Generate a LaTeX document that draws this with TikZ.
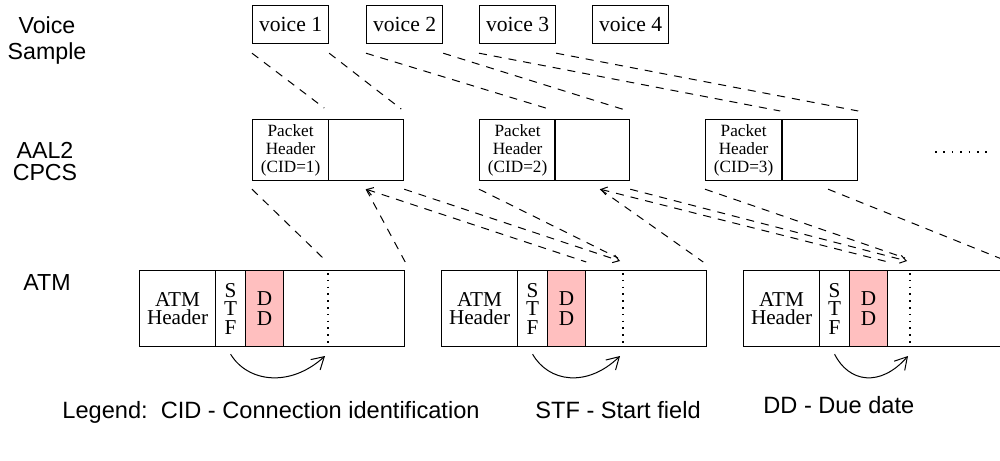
\documentclass[tikz,border=0pt]{standalone}
\usepackage{fontspec}
\setmainfont{Liberation Serif}
\setsansfont{Liberation Sans}
\usetikzlibrary{arrows.meta}
\definecolor{ddpink}{RGB}{255,191,191}
\begin{document}
\begin{tikzpicture}[
  x=0.5pt, y=-0.5pt,
  fieldbox/.style={draw, line width=0.6pt, anchor=north west, inner sep=0pt, align=center},
  voicebox/.style={fieldbox, minimum width=38pt, minimum height=19pt, font=\fontsize{10.8}{12}\selectfont},
  pkthdr/.style={fieldbox, minimum width=38pt, minimum height=30.5pt, font=\fontsize{8.6}{9}\selectfont},
  pktpay/.style={fieldbox, minimum width=37.5pt, minimum height=30.5pt},
  atmhdr/.style={fieldbox, minimum width=38pt, minimum height=38pt, font=\fontsize{10.6}{9.4}\selectfont},
  stfbox/.style={fieldbox, minimum width=15pt, minimum height=38pt, font=\fontsize{10.6}{9.2}\selectfont},
  ddbox/.style={fieldbox, fill=ddpink, minimum width=19pt, minimum height=38pt, font=\fontsize{10.6}{10.4}\selectfont},
  atmpay/.style={fieldbox, minimum width=60.5pt, minimum height=38pt},
  rowlabel/.style={align=center, font=\sffamily\fontsize{11.6}{13}\selectfont},
  legendtext/.style={anchor=base west, inner sep=0pt, font=\sffamily\fontsize{11.8}{14}\selectfont},
  flow/.style={line width=0.5pt, dash pattern=on 4pt off 3.5pt},
  flowtip/.style={-{Straight Barb[length=3pt,width=4pt]}},
  backtip/.style={{Straight Barb[length=3pt,width=4pt]}-},
  nextarc/.style={line width=0.5pt, -{Straight Barb[length=6pt,width=7pt]}},
  fillmark/.style={line width=0.6pt, dash pattern=on 0.8pt off 2.6pt},
  ellip/.style={line width=0.8pt, dash pattern=on 0.8pt off 3.4pt}
]
\useasboundingbox (0,0) rectangle (1000,460);
\clip (0,0) rectangle (1000,460);

\node[rowlabel] (lvoice) at (47,41) {Voice\\Sample};
\node[rowlabel, font=\sffamily\fontsize{11.6}{11}\selectfont] (lcpcs) at (45,162) {AAL2\\CPCS};
\node[rowlabel] (latm) at (47,283) {ATM};

\node[voicebox] (v1) at (252,5) {voice 1};
\node[voicebox] (v2) at (366,5) {voice 2};
\node[voicebox] (v3) at (479,5) {voice 3};
\node[voicebox] (v4) at (592,5) {voice 4};

\node[pkthdr] (c1h) at (252,119) {Packet\\Header\\(CID=1)};
\node[pktpay] (c1p) at (328,119) {};
\node[pkthdr] (c2h) at (479,119) {Packet\\Header\\(CID=2)};
\node[pktpay] (c2p) at (554,119) {};
\node[pkthdr] (c3h) at (705,119) {Packet\\Header\\(CID=3)};
\node[pktpay] (c3p) at (782,119) {};
\draw[ellip] (935,152) -- (987,152);

\node[atmhdr] (a1h) at (139,270) {ATM\\Header};
\node[stfbox] (a1s) at (215,270) {S\\T\\F};
\node[ddbox] (a1d) at (245,270) {D\\D};
\node[atmpay] (a1p) at (283,270) {};
\node[atmhdr] (a2h) at (441,270) {ATM\\Header};
\node[stfbox] (a2s) at (517,270) {S\\T\\F};
\node[ddbox] (a2d) at (547,270) {D\\D};
\node[atmpay] (a2p) at (585,270) {};
\node[atmhdr] (a3h) at (743,270) {ATM\\Header};
\node[stfbox] (a3s) at (819,270) {S\\T\\F};
\node[ddbox] (a3d) at (849,270) {D\\D};
\node[atmpay] (a3p) at (887,270) {};

\coordinate (m1t) at (328,270);
\coordinate (m1b) at (328,346);
\coordinate (m2t) at (623,270);
\coordinate (m2b) at (623,346);
\coordinate (m3t) at (910,270);
\coordinate (m3b) at (910,346);
\draw[fillmark] ([yshift=-1.5pt]m1t) -- ([yshift=1.5pt]m1b);
\draw[fillmark] ([yshift=-1.5pt]m2t) -- ([yshift=1.5pt]m2b);
\draw[fillmark] ([yshift=-1.5pt]m3t) -- ([yshift=1.5pt]m3b);

\draw[flow] ([yshift=-4.5pt]v1.south west) -- ([xshift=-2.5pt,yshift=5.5pt]c1h.north east);
\draw[flow] ([yshift=-4.5pt]v1.south east) -- ([xshift=-1.5pt,yshift=5pt]c1p.north east);
\draw[flow] ([yshift=-4.5pt]v2.south west) -- ([xshift=-2pt,yshift=4.5pt]c2h.north east);
\draw[flow] ([yshift=-4.5pt]v2.south east) -- ([xshift=-2.5pt,yshift=4.5pt]c2p.north east);
\draw[flow] ([yshift=-4.5pt]v3.south west) -- ([xshift=-1pt,yshift=4pt]c3h.north east);
\draw[flow] ([yshift=-4.5pt]v3.south east) -- ([yshift=4pt]c3p.north east);

\draw[flow] ([yshift=-4pt]c1h.south west) -- ([xshift=-2.5pt,yshift=6pt]m1t);
\draw[flow] ([yshift=-4pt]c1p.south) -- ([yshift=4pt]a1p.north east);
\draw[flow, backtip] ([yshift=-4pt]c1p.south) -- ([yshift=4pt]a2d.north east);
\draw[flow, flowtip] ([yshift=-4pt]c1p.south east) -- ([xshift=-1.5pt,yshift=4.5pt]m2t);
\draw[flow] ([yshift=-4pt]c2h.south west) -- ([xshift=-2.5pt,yshift=6pt]m2t);
\draw[flow] ([xshift=4pt,yshift=-4pt]c2p.south) -- ([xshift=-2pt,yshift=4pt]a2p.north east);
\draw[flow, backtip] ([xshift=4pt,yshift=-4pt]c2p.south) -- ([yshift=4pt]a3d.north east);
\draw[flow, flowtip] ([yshift=-4pt]c2p.south east) -- ([xshift=-1.5pt,yshift=4.5pt]m3t);
\draw[flow] ([yshift=-4pt]c3h.south west) -- ([xshift=-2.5pt,yshift=6pt]m3t);
\draw[flow] ([xshift=4pt,yshift=-4pt]c3p.south) -- ([yshift=4pt]a3p.north east);

\draw[nextarc] ([yshift=-3.5pt]a1s.south) .. controls ([xshift=8.5pt,yshift=-17.5pt]a1s.south) and ([xshift=-19pt,yshift=-21pt]m1b) .. ([xshift=-1.5pt,yshift=-5pt]m1b);
\draw[nextarc] ([yshift=-3.5pt]a2s.south) .. controls ([xshift=8pt,yshift=-17.5pt]a2s.south) and ([xshift=-18pt,yshift=-21pt]m2b) .. ([xshift=-1.5pt,yshift=-5pt]m2b);
\draw[nextarc] ([yshift=-3.5pt]a3s.south) .. controls ([xshift=7pt,yshift=-17.5pt]a3s.south) and ([xshift=-15pt,yshift=-21pt]m3b) .. ([xshift=-1pt,yshift=-5pt]m3b);

\node[legendtext] (lg1) at (62,418) {Legend:\ \ CID - Connection identification};
\node[legendtext] (lg2) at (535,418) {STF - Start field};
\node[legendtext] (lg3) at (763,413) {DD - Due date};
\end{tikzpicture}
\end{document}
